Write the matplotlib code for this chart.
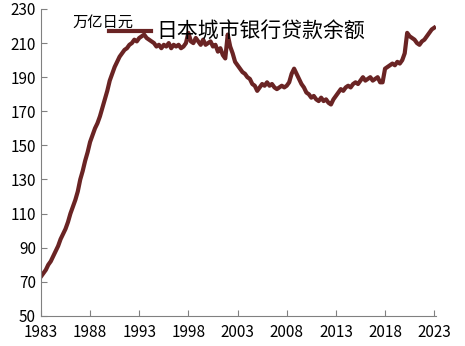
import numpy as np
import matplotlib.pyplot as plt

plt.rcParams['font.family'] = ['Noto Sans CJK SC', 'DejaVu Sans']

# quarterly balance of city bank loans, trillion yen
start_year = 1983
loans = [
    73, 75, 77, 80,       # 1983
    82, 85, 88, 91,       # 1984
    95, 98, 101, 105,     # 1985
    110, 114, 118, 123,   # 1986
    130, 135, 141, 146,   # 1987
    152, 156, 160, 163,   # 1988
    167, 172, 177, 182,   # 1989
    188, 192, 196, 199,   # 1990
    202, 204, 206, 207,   # 1991
    209, 210, 212, 211,   # 1992
    213, 214, 215, 213,   # 1993
    212, 211, 210, 208,   # 1994
    209, 207, 209, 208,   # 1995
    210, 207, 209, 208,   # 1996
    209, 207, 208, 210,   # 1997
    216, 211, 210, 213,   # 1998
    211, 209, 212, 209,   # 1999
    210, 211, 208, 209,   # 2000
    205, 207, 203, 201,   # 2001
    215, 208, 204, 199,   # 2002
    197, 195, 193, 192,   # 2003
    190, 189, 186, 185,   # 2004
    182, 184, 186, 185,   # 2005
    187, 185, 186, 184,   # 2006
    183, 184, 185, 184,   # 2007
    185, 187, 192, 195,   # 2008
    192, 189, 186, 184,   # 2009
    181, 180, 178, 179,   # 2010
    177, 176, 178, 176,   # 2011
    177, 175, 174, 177,   # 2012
    179, 181, 183, 182,   # 2013
    184, 185, 184, 186,   # 2014
    187, 186, 188, 190,   # 2015
    188, 189, 190, 188,   # 2016
    189, 190, 187, 187,   # 2017
    195, 196, 197, 198,   # 2018
    197, 199, 198, 200,   # 2019
    204, 216, 214, 213,   # 2020
    212, 210, 209, 211,   # 2021
    212, 214, 216, 218,   # 2022
    219,                  # 2023
]
years = start_year + np.arange(len(loans)) / 4

x_ticks = [1983, 1988, 1993, 1998, 2003, 2008, 2013, 2018, 2023]
y_ticks = [50, 70, 90, 110, 130, 150, 170, 190, 210, 230]

fig = plt.figure(figsize=(4.65, 3.46), dpi=100)
ax = fig.add_axes([0.088, 0.087, 0.85, 0.887])

ax.plot(years, loans, color='#6a2424', linewidth=3.0, label='日本城市银行贷款余额')

ax.set_xlim(1983, 2023.2)
ax.set_ylim(50, 230)
ax.set_xticks(x_ticks)
ax.set_yticks(y_ticks)
ax.tick_params(direction='in', labelsize=11, color='#808080', length=4)
ax.tick_params(axis='x', pad=6)
for side in ['top', 'right']:
    ax.spines[side].set_visible(False)
for side in ['left', 'bottom']:
    ax.spines[side].set_color('#808080')

fig.text(72 / 465, 1 - 22 / 346, '万亿日元', fontsize=11, va='center', ha='left')
ax.legend(loc='center left', bbox_to_anchor=(0.147, 0.925), frameon=False,
          fontsize=15, handlelength=2.0, handletextpad=0.25, borderpad=0)

fig.savefig('out.png', dpi=100)
